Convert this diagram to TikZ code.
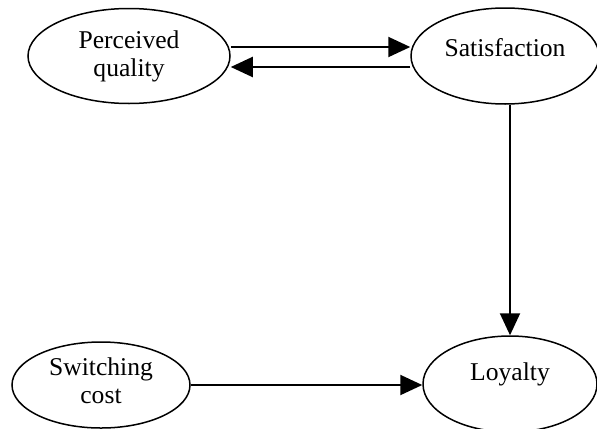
\documentclass[tikz,border=0pt]{standalone}
\usepackage{fontspec}
\setmainfont{Liberation Serif}
\usetikzlibrary{shapes.geometric,arrows.meta}
\newcommand{\upby}[2]{\raisebox{#1}[\height][\depth]{#2}}
\begin{document}
\begin{tikzpicture}[x=0.5pt,y=-0.5pt,
  oval/.style={ellipse,draw,line width=0.75pt,inner sep=0pt,align=center,
    font=\fontsize{12.8}{14}\selectfont},
  conn/.style={line width=1pt,-{Triangle[length=11pt,width=10pt]}}]
\useasboundingbox (0,0) rectangle (597,428);
\node[oval,minimum width=101pt,minimum height=47.5pt] (pq) at (129,56) {Perceived\\quality};
\node[oval,minimum width=94pt,minimum height=48pt] (sat) at (505,56) {\upby{4pt}{Satisfaction}};
\node[oval,minimum width=89pt,minimum height=43pt] (sc) at (101,385) {\upby{2pt}{Switching}\\\upby{2pt}{cost}};
\node[oval,minimum width=87pt,minimum height=48pt] (loy) at (510,384) {\upby{5pt}{Loyalty}};
\draw[conn] ([yshift=4.5pt]pq.east) -- ([yshift=4.5pt]sat.west);
\draw[conn] ([yshift=-5.5pt]sat.west) -- ([yshift=-5.5pt]pq.east);
\draw[conn] (loy.north |- sat.south) -- (loy.north);
\draw[conn] (sc.east) -- (sc.east -| loy.west);
\end{tikzpicture}
\end{document}
